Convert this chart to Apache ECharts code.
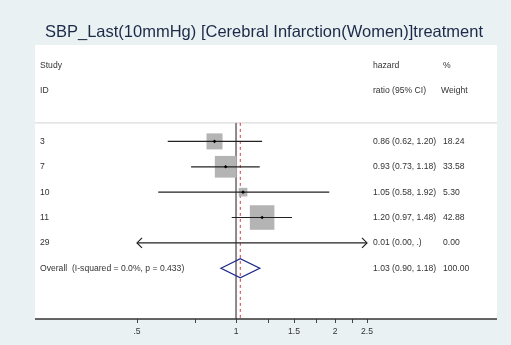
<!DOCTYPE html>
<html>
<head>
<meta charset="utf-8">
<script src="https://cdn.jsdelivr.net/npm/echarts@6/dist/echarts.min.js"></script>
<style>
  html, body { margin: 0; padding: 0; background: #e9f1f3; }
  #chart { width: 511px; height: 345px; }
</style>
</head>
<body>
<div id="chart"></div>
<script>
// ---- data ----
const chartTitle = 'SBP_Last(10mmHg) [Cerebral Infarction(Women)]treatment';
const studyIds = ['3', '7', '10', '11', '29'];
const hazardRatio = [0.86, 0.93, 1.05, 1.20, 0.01];
const ciLower = [0.62, 0.73, 0.58, 0.97, 0.00];
const ciUpper = [1.20, 1.18, 1.92, 1.48, null];   // null = upper limit not estimable
const weightPct = [18.24, 33.58, 5.30, 42.88, 0.00];
const overallHR = 1.03;
const overallLower = 0.90;
const overallUpper = 1.18;
const overallWeight = 100.00;
const overallLabel = 'Overall  (I-squared = 0.0%, p = 0.433)';
const tickLabelValues = [0.5, 1, 1.5, 2, 2.5];
const tickValues = [0.5, 0.75, 1, 1.25, 1.5, 1.75, 2, 2.25, 2.5];
const axisMin = 0.5;
const axisMax = 2.5;
const nullEffect = 1;

// ---- layout ----
const PANEL = { x0: 35, x1: 497, y0: 45, y1: 319 };
const COL_ID = 40, COL_HR = 373, COL_W = 443;
const ROW_HEAD1 = -3, ROW_HEAD2 = -2, ROW_SEP = -0.73, ROW_OVERALL = studyIds.length, ROW_BOTTOM = 7;
const BOX_SCALE = 3.75;       // box side (px) per sqrt(weight %)
const FONT = '"Liberation Sans", Arial, sans-serif';
const TEXT_SIZE = 8.6;
const TEXT_COLOR = '#333333';

const fmt2 = v => (v == null ? '.' : v.toFixed(2));
const ciText = (hr, lo, hi) => `${fmt2(hr)} (${fmt2(lo)}, ${fmt2(hi)})`;

function textEl(x, y, str, align) {
  return {
    type: 'text',
    style: {
      x, y, text: str, fill: TEXT_COLOR,
      font: `${TEXT_SIZE}px ${FONT}`,
      textAlign: align || 'left', textVerticalAlign: 'middle'
    }
  };
}

function arrowHead(x, y, dir) {
  return {
    type: 'polyline',
    shape: { points: [[x - dir * 5, y - 5], [x, y], [x - dir * 5, y + 5]] },
    style: { stroke: '#222', lineWidth: 1.2, fill: null }
  };
}

// one row per study: weighted box, CI line (arrows where it leaves the axis), centre dot, text columns
function renderStudy(params, api) {
  const i = params.dataIndex;
  const y = api.coord([1, i])[1];
  const lo = ciLower[i], hi = ciUpper[i], hr = hazardRatio[i];
  const loOut = !(lo >= axisMin);
  const hiOut = hi == null || hi > axisMax;
  const x0 = api.coord([loOut ? axisMin : lo, i])[0];
  const x1 = api.coord([hiOut ? axisMax : hi, i])[0];
  const children = [];
  const onScale = hr >= axisMin && hr <= axisMax;
  if (onScale && weightPct[i] > 0) {
    const side = BOX_SCALE * Math.sqrt(weightPct[i]);
    const xc = api.coord([hr, i])[0];
    children.push({
      type: 'rect',
      shape: { x: xc - side / 2, y: y - side / 2, width: side, height: side },
      style: { fill: '#b4b4b4' }
    });
  }
  children.push({
    type: 'line',
    shape: { x1: x0, y1: y, x2: x1, y2: y },
    style: { stroke: '#222', lineWidth: 1.2 }
  });
  if (loOut) children.push(arrowHead(x0, y, -1));
  if (hiOut) children.push(arrowHead(x1, y, 1));
  if (onScale) {
    const xc = api.coord([hr, i])[0];
    children.push({
      type: 'polygon',
      shape: { points: [[xc - 1.8, y], [xc, y - 1.8], [xc + 1.8, y], [xc, y + 1.8]] },
      style: { fill: '#000' }
    });
  }
  children.push(textEl(COL_ID, y, studyIds[i]));
  children.push(textEl(COL_HR, y, ciText(hr, lo, hi)));
  children.push(textEl(COL_W, y, fmt2(weightPct[i])));
  return { type: 'group', children };
}

// header, reference lines and the pooled estimate diamond
function renderSummary(params, api) {
  const yH1 = api.coord([1, ROW_HEAD1])[1];
  const yH2 = api.coord([1, ROW_HEAD2])[1];
  const ySep = api.coord([1, ROW_SEP])[1];
  const yBot = api.coord([1, ROW_BOTTOM])[1];
  const y = api.coord([1, ROW_OVERALL])[1];
  const xNull = api.coord([nullEffect, 0])[0];
  const xHR = api.coord([overallHR, 0])[0];
  const xLo = api.coord([overallLower, 0])[0];
  const xHi = api.coord([overallUpper, 0])[0];
  const h = 9.5;
  return {
    type: 'group',
    children: [
      { type: 'line', shape: { x1: PANEL.x0, y1: ySep, x2: PANEL.x1, y2: ySep },
        style: { stroke: '#dcdcdc', lineWidth: 1.2 } },
      { type: 'line', shape: { x1: xNull, y1: ySep, x2: xNull, y2: yBot },
        style: { stroke: '#8a8a8a', lineWidth: 2 } },
      { type: 'line', shape: { x1: xHR, y1: ySep, x2: xHR, y2: yBot },
        style: { stroke: '#c8424a', lineWidth: 1, lineDash: [3, 3] } },
      { type: 'polygon',
        shape: { points: [[xLo, y], [xHR, y - h], [xHi, y], [xHR, y + h]] },
        style: { fill: null, stroke: '#1f2a8a', lineWidth: 1.3 } },
      textEl(COL_ID, yH1, 'Study'),
      textEl(COL_ID, yH2, 'ID'),
      textEl(COL_HR, yH1, 'hazard'),
      textEl(COL_HR, yH2, 'ratio (95% CI)'),
      textEl(COL_W, yH1, '%'),
      textEl(COL_W - 2, yH2, 'Weight'),
      textEl(COL_ID, y, overallLabel),
      textEl(COL_HR, y, ciText(overallHR, overallLower, overallUpper)),
      textEl(COL_W, y, fmt2(overallWeight))
    ]
  };
}

const chart = echarts.init(document.getElementById('chart'), null, { renderer: 'canvas' });
chart.setOption({
  backgroundColor: '#e9f1f3',
  animation: false,
  title: {
    text: chartTitle,
    left: 259,
    textAlign: 'center',
    top: 19,
    textStyle: { fontFamily: FONT, fontSize: 16.5, fontWeight: 'normal', color: '#1c2a48' }
  },
  graphic: [
    { type: 'rect', z: -10, silent: true,
      shape: { x: PANEL.x0, y: PANEL.y0, width: PANEL.x1 - PANEL.x0, height: PANEL.y1 - PANEL.y0 },
      style: { fill: '#ffffff' } },
    { type: 'line', z: 10, silent: true,
      shape: { x1: PANEL.x0, y1: PANEL.y1, x2: PANEL.x1, y2: PANEL.y1 },
      style: { stroke: '#333', lineWidth: 1.3 } }
  ],
  grid: { left: 137, right: 144, top: PANEL.y0, bottom: 345 - PANEL.y1, containLabel: false },
  xAxis: {
    type: 'log',
    logBase: 10,
    min: axisMin,
    max: axisMax,
    position: 'bottom',
    axisLine: { show: false, onZero: false },
    splitLine: { show: false },
    minorTick: { show: false },
    axisTick: { show: true, inside: false, customValues: tickValues, length: 4, lineStyle: { color: '#444', width: 1 } },
    axisLabel: {
      customValues: tickLabelValues,
      margin: 8,
      fontFamily: FONT,
      fontSize: TEXT_SIZE,
      color: TEXT_COLOR,
      formatter: v => (v < 1 ? String(v).replace(/^0/, '') : String(v))
    }
  },
  yAxis: { type: 'value', inverse: true, min: -3.8, max: 7, show: false },
  series: [
    {
      type: 'custom',
      renderItem: renderSummary,
      data: [[overallHR, ROW_OVERALL]],
      encode: { x: 0, y: 1 },
      z: 2
    },
    {
      type: 'custom',
      renderItem: renderStudy,
      data: studyIds.map((_, i) => [hazardRatio[i], i]),
      encode: { x: 0, y: 1 },
      z: 3
    }
  ]
});
</script>
</body>
</html>
